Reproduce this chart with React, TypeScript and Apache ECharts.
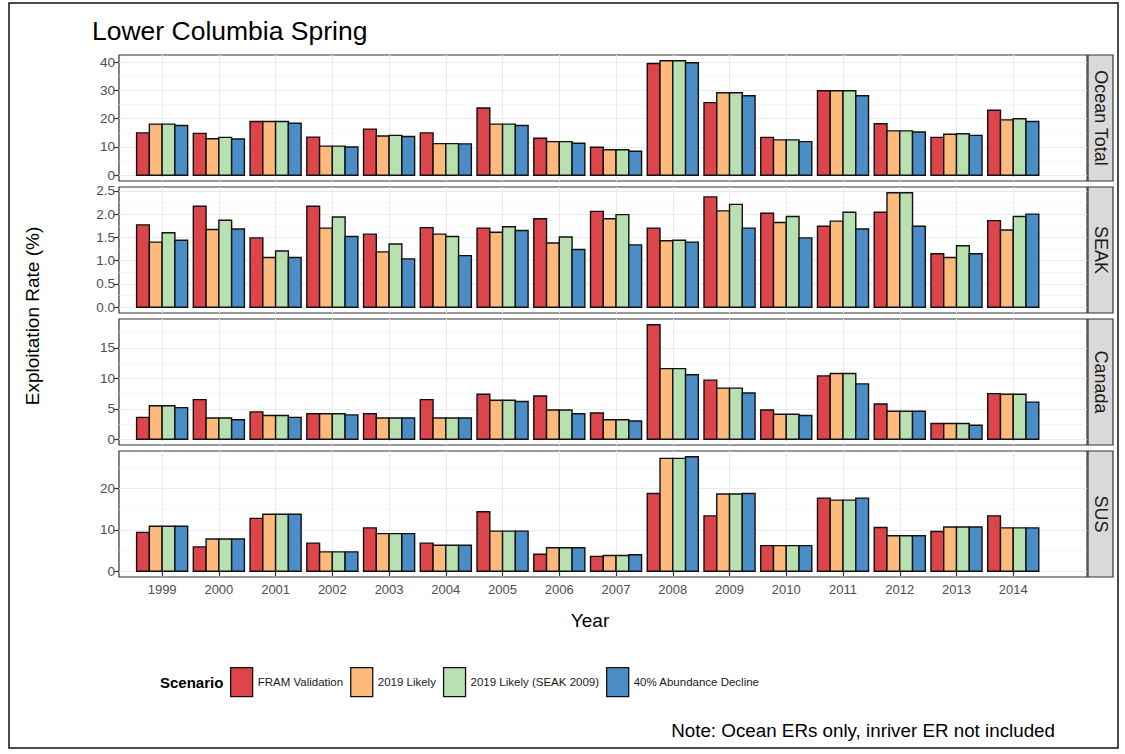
import React, { useEffect, useRef } from "react";
import * as echarts from "echarts";

const years = [1999, 2000, 2001, 2002, 2003, 2004, 2005, 2006, 2007, 2008, 2009, 2010, 2011, 2012, 2013, 2014];
const scenarios = ["FRAM Validation", "2019 Likely", "2019 Likely (SEAK 2009)", "40% Abundance Decline"];
const scenarioColors = ["#DC464B", "#FDBA7C", "#B8E0B0", "#4B8DC6"];
const panelNames = ["Ocean Total", "SEAK", "Canada", "SUS"];

const oceanFram = [15.0, 14.8, 19.0, 13.5, 16.3, 15.0, 23.8, 13.1, 9.9, 39.5, 25.7, 13.4, 29.9, 18.2, 13.4, 23.0];
const ocean2019 = [18.1, 12.9, 19.0, 10.3, 13.9, 11.2, 18.1, 11.9, 9.0, 40.5, 29.2, 12.5, 29.9, 15.7, 14.5, 19.6];
const oceanSeak09 = [18.1, 13.4, 19.0, 10.3, 14.1, 11.2, 18.1, 11.9, 9.0, 40.5, 29.2, 12.5, 29.9, 15.7, 14.7, 20.0];
const ocean40 = [17.6, 12.8, 18.4, 10.0, 13.7, 11.1, 17.6, 11.3, 8.5, 39.8, 28.1, 11.9, 28.1, 15.3, 14.1, 19.0];

const seakFram = [1.77, 2.17, 1.49, 2.17, 1.57, 1.71, 1.70, 1.90, 2.06, 1.70, 2.37, 2.02, 1.74, 2.04, 1.15, 1.86];
const seak2019 = [1.40, 1.67, 1.07, 1.70, 1.19, 1.57, 1.61, 1.38, 1.90, 1.43, 2.07, 1.82, 1.85, 2.46, 1.07, 1.66];
const seakSeak09 = [1.60, 1.87, 1.21, 1.94, 1.36, 1.52, 1.73, 1.51, 1.99, 1.44, 2.21, 1.95, 2.04, 2.46, 1.32, 1.95];
const seak40 = [1.44, 1.68, 1.07, 1.52, 1.04, 1.11, 1.65, 1.24, 1.34, 1.40, 1.70, 1.49, 1.68, 1.74, 1.15, 2.00];

const canadaFram = [3.6, 6.5, 4.5, 4.2, 4.2, 6.5, 7.4, 7.1, 4.3, 18.8, 9.7, 4.8, 10.4, 5.8, 2.6, 7.5];
const canada2019 = [5.5, 3.5, 3.9, 4.2, 3.5, 3.5, 6.4, 4.8, 3.2, 11.6, 8.4, 4.1, 10.8, 4.6, 2.6, 7.4];
const canadaSeak09 = [5.5, 3.5, 3.9, 4.2, 3.5, 3.5, 6.4, 4.8, 3.2, 11.6, 8.4, 4.1, 10.8, 4.6, 2.6, 7.4];
const canada40 = [5.2, 3.2, 3.6, 4.0, 3.5, 3.5, 6.2, 4.2, 3.0, 10.6, 7.6, 3.9, 9.1, 4.6, 2.3, 6.1];

const susFram = [9.4, 5.9, 12.8, 6.8, 10.5, 6.8, 14.4, 4.1, 3.6, 18.8, 13.4, 6.2, 17.7, 10.6, 9.6, 13.4];
const sus2019 = [10.9, 7.8, 13.8, 4.7, 9.1, 6.3, 9.7, 5.7, 3.8, 27.3, 18.7, 6.2, 17.2, 8.6, 10.7, 10.5];
const susSeak09 = [10.9, 7.8, 13.8, 4.7, 9.1, 6.3, 9.7, 5.7, 3.8, 27.3, 18.7, 6.2, 17.2, 8.6, 10.7, 10.5];
const sus40 = [10.9, 7.8, 13.8, 4.7, 9.1, 6.3, 9.7, 5.7, 4.0, 27.7, 18.8, 6.2, 17.7, 8.6, 10.7, 10.5];

const oceanTicks = [0, 10, 20, 30, 40];
const seakTicks = [0, 0.5, 1.0, 1.5, 2.0, 2.5];
const canadaTicks = [0, 5, 10, 15];
const susTicks = [0, 10, 20];
const oceanMinor = [5, 15, 25, 35];
const seakMinor = [0.25, 0.75, 1.25, 1.75, 2.25];
const canadaMinor = [2.5, 7.5, 12.5, 17.5];
const susMinor = [5, 15, 25];

const panelData = [
  [oceanFram, ocean2019, oceanSeak09, ocean40],
  [seakFram, seak2019, seakSeak09, seak40],
  [canadaFram, canada2019, canadaSeak09, canada40],
  [susFram, sus2019, susSeak09, sus40],
];
const panelTicks = [oceanTicks, seakTicks, canadaTicks, susTicks];
const panelMinor = [oceanMinor, seakMinor, canadaMinor, susMinor];

const FONT = "'Liberation Sans', Arial, Helvetica, sans-serif";
const PANEL_LEFT = 119;
const PANEL_WIDTH = 968;
const PANEL_TOPS = [55, 187, 319, 451];
const PANEL_H = 126;
const DODGE = 0.9;
const X_PAD_LEFT = 0.76;
const X_PAD_RIGHT = 1.3;

export default function App() {
  const ref = useRef<HTMLDivElement>(null);

  useEffect(() => {
    if (!ref.current) return;
    const chart = echarts.init(ref.current, null, { renderer: "svg" });

    const xMin = years[0] - X_PAD_LEFT;
    const xMax = years[years.length - 1] + X_PAD_RIGHT;

    const grids = panelNames.map((_, i) => ({
      left: PANEL_LEFT,
      width: PANEL_WIDTH,
      top: PANEL_TOPS[i],
      height: PANEL_H,
      show: true,
      backgroundColor: "#ffffff",
      borderColor: "#333333",
      borderWidth: 1.2,
    }));

    const xAxes = panelNames.map((_, i) => ({
      type: "value",
      gridIndex: i,
      min: xMin,
      max: xMax,
      axisLine: { show: false },
      axisTick: {
        show: i === 3,
        length: 5,
        lineStyle: { color: "#333333", width: 1.2 },
        customValues: years,
      },
      axisLabel: {
        show: i === 3,
        customValues: years,
        formatter: (v: number) => String(Math.round(v)),
        fontSize: 13,
        color: "#4D4D4D",
        fontFamily: FONT,
        margin: 6,
      },
      splitLine: { show: true, lineStyle: { color: "#EBEBEB", width: 1.1 } },
    }));

    const yAxes: any[] = [];
    panelNames.forEach((_, i) => {
      let mx = 0;
      panelData[i].forEach((arr) => arr.forEach((v) => (mx = Math.max(mx, v))));
      const yMin = -0.05 * mx;
      const yMax = mx * 1.05;
      const isSeak = i === 1;
      yAxes.push({
        type: "value",
        gridIndex: i,
        min: yMin,
        max: yMax,
        position: "left",
        axisLine: { show: false },
        axisTick: {
          show: true,
          length: 5,
          lineStyle: { color: "#333333", width: 1.2 },
          customValues: panelTicks[i],
        },
        axisLabel: {
          show: true,
          customValues: panelTicks[i],
          formatter: (v: number) => (isSeak ? v.toFixed(1) : String(Math.round(v))),
          fontSize: 13.5,
          color: "#4D4D4D",
          fontFamily: FONT,
          margin: 4,
        },
        splitLine: { show: true, lineStyle: { color: "#EBEBEB", width: 1.1 } },
      });
      yAxes.push({
        type: "value",
        gridIndex: i,
        min: yMin,
        max: yMax,
        position: "right",
        axisLine: { show: false },
        axisTick: { show: false, customValues: panelMinor[i] },
        axisLabel: { show: false, customValues: panelMinor[i] },
        splitLine: { show: true, lineStyle: { color: "#F2F2F2", width: 0.6 } },
      });
    });

    const series: any[] = [];
    panelNames.forEach((_, i) => {
      scenarios.forEach((name, s) => {
        const vals = panelData[i][s];
        series.push({
          type: "custom",
          name,
          xAxisIndex: i,
          yAxisIndex: 2 * i,
          itemStyle: { color: scenarioColors[s], borderColor: "#111111", borderWidth: 1.3 },
          encode: { x: 0, y: 1 },
          data: years.map((yr, j) => [yr, vals[j]]),
          renderItem: (params: any, api: any) => {
            const x = api.value(0);
            const v = api.value(1);
            const w = DODGE / scenarios.length;
            const p0 = api.coord([x - DODGE / 2 + s * w, v]);
            const p1 = api.coord([x - DODGE / 2 + (s + 1) * w, 0]);
            return {
              type: "rect",
              shape: { x: p0[0], y: p0[1], width: p1[0] - p0[0], height: p1[1] - p0[1] },
              style: { fill: scenarioColors[s], stroke: "#111111", lineWidth: 1.4 },
            };
          },
        });
      });
    });

    const graphics: any[] = [
      {
        type: "rect",
        shape: { x: 9, y: 3, width: 1109, height: 745 },
        style: { fill: "none", stroke: "#111111", lineWidth: 1.5 },
        silent: true,
        z: 100,
      },
      {
        type: "text",
        x: 92,
        y: 31,
        style: { text: "Lower Columbia Spring", fontSize: 26.5, fontFamily: FONT, fill: "#000000", verticalAlign: "middle", align: "left" },
      },
      {
        type: "text",
        x: 32,
        y: (PANEL_TOPS[0] + PANEL_TOPS[3] + PANEL_H) / 2,
        rotation: Math.PI / 2,
        style: { text: "Exploitation Rate (%)", fontSize: 19, fontFamily: FONT, fill: "#000000", align: "center", verticalAlign: "middle" },
      },
      {
        type: "text",
        x: 590,
        y: 620,
        style: { text: "Year", fontSize: 19, fontFamily: FONT, fill: "#000000", align: "center", verticalAlign: "middle" },
      },
      {
        type: "text",
        x: 160,
        y: 682,
        style: { text: "Scenario", fontSize: 15, fontWeight: "bold", fontFamily: FONT, fill: "#000000", align: "left", verticalAlign: "middle" },
      },
      {
        type: "text",
        x: 1055,
        y: 730,
        style: { text: "Note: Ocean ERs only, inriver ER not included", fontSize: 18.8, fontFamily: FONT, fill: "#000000", align: "right", verticalAlign: "middle" },
      },
    ];
    panelNames.forEach((name, i) => {
      const sx = PANEL_LEFT + PANEL_WIDTH + 1;
      graphics.push({
        type: "rect",
        shape: { x: sx, y: PANEL_TOPS[i], width: 25, height: PANEL_H },
        style: { fill: "#D9D9D9", stroke: "#333333", lineWidth: 1.2 },
      });
      graphics.push({
        type: "text",
        x: sx + 12.5,
        y: PANEL_TOPS[i] + PANEL_H / 2,
        rotation: -Math.PI / 2,
        style: { text: name, fontSize: 18, fontFamily: FONT, fill: "#1A1A1A", align: "center", verticalAlign: "middle" },
      });
    });

    chart.setOption({
      animation: false,
      backgroundColor: "#ffffff",
      grid: grids,
      xAxis: xAxes,
      yAxis: yAxes,
      legend: {
        left: 230,
        top: 667,
        padding: 0,
        orient: "horizontal",
        itemWidth: 22,
        itemHeight: 29,
        itemGap: 7,
        selectedMode: false,
        textStyle: { fontSize: 11.5, fontFamily: FONT, color: "#1A1A1A" },
        data: scenarios.map((n, s) => ({
          name: n,
          icon: "rect",
          itemStyle: { color: scenarioColors[s], borderColor: "#111111", borderWidth: 1.3 },
        })),
      },
      series,
      graphic: graphics,
    });

    return () => chart.dispose();
  }, []);

  return (
    <div
      ref={ref}
      style={{ position: "absolute", left: 0, top: 0, width: 1125, height: 754, background: "#ffffff" }}
    />
  );
}
